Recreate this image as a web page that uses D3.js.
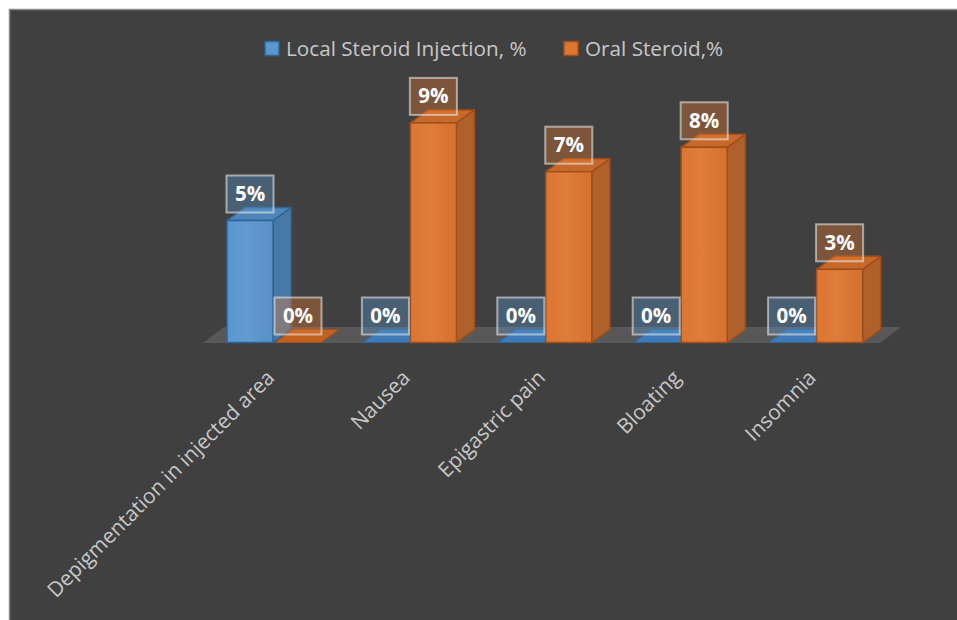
<!DOCTYPE html>
<html>
<head>
<meta charset="utf-8">
<script src="https://cdn.jsdelivr.net/npm/d3@7"></script>
<style>
  html, body { margin: 0; padding: 0; background: #ffffff; }
  svg { display: block; }
</style>
</head>
<body>
<svg id="chart" width="957" height="620"></svg>
<script>
// ---- data ----
const categories = ["Depigmentation in injected area", "Nausea", "Epigastric pain", "Bloating", "Insomnia"];
const seriesNames = ["Local Steroid Injection, %", "Oral Steroid,%"];
const localInjection = [5, 0, 0, 0, 0];
const oralSteroid = [0, 9, 7, 8, 3];
const yDomain = [0, 10];

// ---- styles ----
const colors = {
  local: { front: "#5a96cf", side: "#4878a6", top: "#4f86ba", flat: "#3d7ab6", stroke: "#2f6496", label: "rgba(91,155,213,0.35)" },
  oral:  { front: "#dd7631", side: "#b0602a", top: "#c8692c", flat: "#c2601f", stroke: "#a04f1a", label: "rgba(237,125,49,0.35)" }
};
const textColor = "#c8c8c8";
const fontFamily = "'Open Sans', 'Noto Sans', sans-serif";

const svg = d3.select("#chart");
const W = 957, H = 620;

const defs = svg.append("defs");
const shadow = defs.append("filter").attr("id", "shadow").attr("x", "-30%").attr("y", "-30%").attr("width", "170%").attr("height", "170%");
shadow.append("feDropShadow").attr("dx", 3).attr("dy", 3).attr("stdDeviation", 4).attr("flood-color", "#000").attr("flood-opacity", 0.35);

const grad = defs.append("linearGradient").attr("id", "sheen").attr("x1", 0).attr("x2", 1).attr("y1", 0).attr("y2", 0);
grad.append("stop").attr("offset", "0%").attr("stop-color", "#fff").attr("stop-opacity", 0);
grad.append("stop").attr("offset", "45%").attr("stop-color", "#fff").attr("stop-opacity", 0.05);
grad.append("stop").attr("offset", "100%").attr("stop-color", "#000").attr("stop-opacity", 0.03);

// panel
svg.append("rect").attr("x", 9.5).attr("y", 9.5).attr("width", W).attr("height", H)
  .attr("fill", "#404040").attr("stroke", "#8a8a8a").attr("stroke-width", 1.5);

// ---- scales ----
const x = d3.scaleBand().domain(categories).range([203, 880]).paddingInner(0).paddingOuter(0);
const inner = d3.scaleBand().domain(["local", "oral"]).range([24, 118]).paddingInner(0.04);
const y = d3.scaleLinear().domain(yDomain).range([342.5, 98.5]);

const depth = { dx: 18, dy: -13 };
const floorDepth = { dx: 21, dy: -16 };

// floor
const [fx0, fx1] = x.range();
const fy = y(0) + 0.5;
svg.append("path")
  .attr("d", `M${fx0},${fy} L${fx1},${fy} L${fx1 + floorDepth.dx},${fy + floorDepth.dy} L${fx0 + floorDepth.dx},${fy + floorDepth.dy} Z`)
  .attr("fill", "#585858");

// ---- bars ----
const rows = [];
categories.forEach((c, i) => {
  rows.push({ cat: c, key: "local", value: localInjection[i] });
  rows.push({ cat: c, key: "oral", value: oralSteroid[i] });
});

const g = svg.append("g");
rows.forEach(d => {
  const col = colors[d.key];
  const x0 = x(d.cat) + inner(d.key);
  const w = inner.bandwidth();
  const yt = y(d.value), yb = y(0);
  const { dx, dy } = depth;
  const bar = g.append("g");
  if (d.value > 0) {
    bar.append("path")
      .attr("d", `M${x0 + w},${yt} L${x0 + w + dx},${yt + dy} L${x0 + w + dx},${yb + dy} L${x0 + w},${yb} Z`)
      .attr("fill", col.side).attr("stroke", col.stroke).attr("stroke-width", 1.5).attr("stroke-linejoin", "round");
    bar.append("path")
      .attr("d", `M${x0},${yt} L${x0 + w},${yt} L${x0 + w + dx},${yt + dy} L${x0 + dx},${yt + dy} Z`)
      .attr("fill", col.top).attr("stroke", col.stroke).attr("stroke-width", 1.5).attr("stroke-linejoin", "round");
    bar.append("rect").attr("x", x0).attr("y", yt).attr("width", w).attr("height", yb - yt)
      .attr("fill", col.front).attr("stroke", col.stroke).attr("stroke-width", 1.5);
    bar.append("rect").attr("x", x0 + 1).attr("y", yt + 1).attr("width", w - 2).attr("height", yb - yt - 2)
      .attr("fill", "url(#sheen)");
  } else {
    bar.append("path")
      .attr("d", `M${x0},${yb} L${x0 + w},${yb} L${x0 + w + dx},${yb + dy} L${x0 + dx},${yb + dy} Z`)
      .attr("fill", col.flat).attr("stroke", col.stroke).attr("stroke-width", 1).attr("stroke-linejoin", "round");
  }
});

// ---- data labels ----
const lg = svg.append("g");
rows.forEach(d => {
  const col = colors[d.key];
  const x0 = x(d.cat) + inner(d.key);
  const w = inner.bandwidth();
  const bh = 37;
  const by = y(d.value) - 8 - bh;
  const bx = x0 - 0.5;
  const bw = w + 1;
  lg.append("rect").attr("x", bx).attr("y", by).attr("width", bw).attr("height", bh)
    .attr("fill", "#404040").attr("fill-opacity", 0.0001).attr("filter", "url(#shadow)");
  lg.append("rect").attr("x", bx).attr("y", by).attr("width", bw).attr("height", bh)
    .attr("fill", col.label).attr("stroke", "rgba(230,230,230,0.6)").attr("stroke-width", 2);
  lg.append("text").attr("x", bx + bw / 2).attr("y", by + bh / 2 + 7)
    .attr("text-anchor", "middle").attr("fill", "#ffffff")
    .attr("font-family", fontFamily).attr("font-weight", 700).attr("font-size", 20.5)
    .text(d.value + "%");
});

// ---- category axis labels ----
const ax = svg.append("g");
categories.forEach(c => {
  const px = x(c) + x.bandwidth() / 2 + 5;
  const py = 379;
  ax.append("text")
    .attr("transform", `translate(${px},${py}) rotate(-45)`)
    .attr("text-anchor", "end")
    .attr("fill", textColor)
    .attr("font-family", fontFamily).attr("font-size", 20.8)
    .text(c);
});

// ---- legend ----
const legend = svg.append("g");
const legendItems = [
  { name: seriesNames[0], key: "local", sx: 265 },
  { name: seriesNames[1], key: "oral", sx: 564 }
];
legendItems.forEach(it => {
  legend.append("rect").attr("x", it.sx).attr("y", 41.5).attr("width", 14).attr("height", 14)
    .attr("fill", colors[it.key].front).attr("stroke", colors[it.key].stroke).attr("stroke-width", 1.5);
  legend.append("text").attr("x", it.sx + 21).attr("y", 56)
    .attr("fill", textColor).attr("font-family", fontFamily).attr("font-size", 20.7)
    .text(it.name);
});
</script>
</body>
</html>
